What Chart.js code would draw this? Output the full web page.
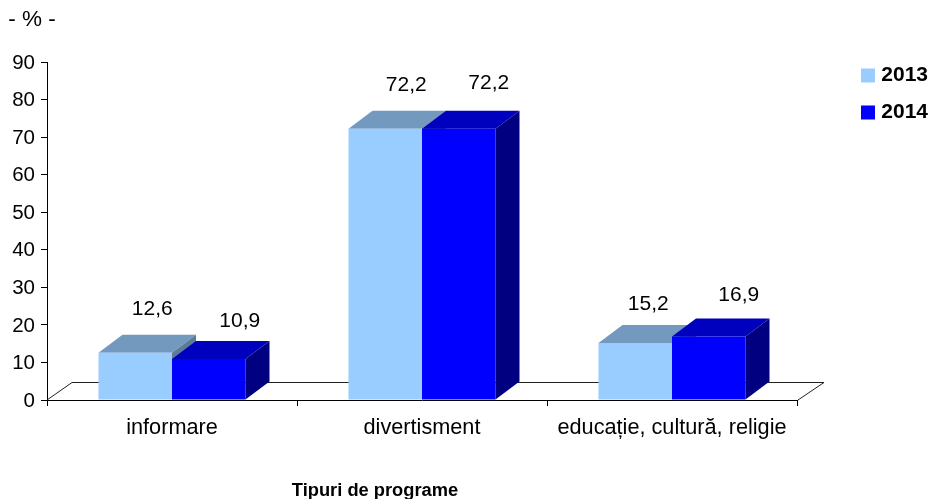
<!DOCTYPE html>
<html lang="ro">
<head>
    <meta charset="UTF-8">
    <title>Tipuri de programe</title>
    <script src="https://cdn.jsdelivr.net/npm/chart.js"></script>
    <style>
        body { margin: 0; background: #fff; }
        canvas { display: block; }
    </style>
</head>
<body>
    <canvas id="myChart" width="929" height="499"></canvas>
    <script>
        const categories = ['informare', 'divertisment', 'educație, cultură, religie'];
        const values2013 = [12.6, 72.2, 15.2];
        const values2014 = [10.9, 72.2, 16.9];
        const yTicks = [0, 10, 20, 30, 40, 50, 60, 70, 80, 90];

        const depthX = 24;
        const depthY = 18;
        const fontFamily = '"Liberation Sans", Arial, sans-serif';

        // value labels were placed by hand in the original, so each has its own shift
        const labelShift = [
            [[17, -43], [21, -44], [13, -39]],
            [[31, -38], [30, -46], [30, -41]]
        ];
        const faceColors = [
            { top: '#7399BF', side: '#5C7A99' },
            { top: '#0000BF', side: '#000080' }
        ];

        function face(ctx, pts, color) {
            ctx.fillStyle = color;
            ctx.beginPath();
            pts.forEach((p, i) => i ? ctx.lineTo(p[0], p[1]) : ctx.moveTo(p[0], p[1]));
            ctx.closePath();
            ctx.fill();
        }

        const bars3d = {
            id: 'bars3d',
            afterLayout(chart) {
                // legend sits in the top right corner, outside the plot
                const legend = chart.legend;
                legend.left = 845;
                legend.right = 928;
                legend.top = 49;
                legend.bottom = 160;
            },
            beforeDatasetsDraw(chart) {
                const ctx = chart.ctx;
                const area = chart.chartArea;

                // floor of the 3d box
                ctx.save();
                ctx.strokeStyle = '#222';
                ctx.lineWidth = 1;
                ctx.beginPath();
                ctx.moveTo(area.left, area.bottom);
                ctx.lineTo(area.left + depthX + 1, area.bottom - depthY + 0.5);
                ctx.lineTo(area.right + depthX + 3, area.bottom - depthY + 0.5);
                ctx.lineTo(area.right + 1, area.bottom);
                ctx.stroke();

                // top and side faces, 2013 first so 2014 covers it
                chart.data.datasets.forEach((ds, d) => {
                    chart.getDatasetMeta(d).data.forEach(bar => {
                        const l = bar.x - bar.width / 2;
                        const r = bar.x + bar.width / 2;
                        face(ctx, [[l, bar.y], [l + depthX, bar.y - depthY], [r + depthX, bar.y - depthY], [r, bar.y]], faceColors[d].top);
                        face(ctx, [[r, bar.y], [r + depthX, bar.y - depthY], [r + depthX, bar.base - depthY], [r, bar.base]], faceColors[d].side);
                    });
                });
                ctx.restore();
            },
            afterDraw(chart) {
                const ctx = chart.ctx;
                ctx.save();
                ctx.fillStyle = '#000';
                ctx.textAlign = 'center';
                ctx.textBaseline = 'middle';
                ctx.font = '21px ' + fontFamily;
                chart.data.datasets.forEach((ds, d) => {
                    chart.getDatasetMeta(d).data.forEach((bar, i) => {
                        const text = ds.data[i].toFixed(1).replace('.', ',');
                        ctx.fillText(text, bar.x + labelShift[d][i][0], bar.y + labelShift[d][i][1]);
                    });
                });
                ctx.font = '22.5px ' + fontFamily;
                ctx.fillText('- % -', 32, 20);
                ctx.font = 'bold 18.3px ' + fontFamily;
                ctx.fillText('Tipuri de programe', 375, 491);
                ctx.restore();
            }
        };

        new Chart(document.getElementById('myChart').getContext('2d'), {
            type: 'bar',
            data: {
                labels: categories,
                datasets: [
                    { label: '2013', data: values2013, backgroundColor: '#99CCFF', borderWidth: 0 },
                    { label: '2014', data: values2014, backgroundColor: '#0000FF', borderWidth: 0 }
                ]
            },
            options: {
                responsive: false,
                animation: false,
                layout: { padding: { left: 0, top: 62, right: 132, bottom: 0 } },
                datasets: { bar: { categoryPercentage: 0.588, barPercentage: 1 } },
                plugins: {
                    tooltip: { enabled: false },
                    legend: {
                        position: 'chartArea',
                        align: 'start',
                        labels: {
                            boxWidth: 14,
                            boxHeight: 14,
                            padding: 16,
                            textAlign: 'right',
                            color: '#000',
                            font: { family: fontFamily, size: 21, weight: 'bold' }
                        }
                    }
                },
                scales: {
                    x: {
                        grid: { drawOnChartArea: false, color: '#000', tickLength: 6 },
                        border: { color: '#000' },
                        ticks: { color: '#000', autoSkip: false, maxRotation: 0, padding: 9, font: { family: fontFamily, size: 21.7 } },
                        afterFit(scale) { scale.height = 99; }
                    },
                    y: {
                        min: 0,
                        max: 90,
                        afterBuildTicks(scale) { scale.ticks = yTicks.map(v => ({ value: v })); },
                        grid: { drawOnChartArea: false, color: '#000', tickLength: 6 },
                        border: { color: '#000' },
                        ticks: { color: '#000', padding: 6, labelOffset: 1, font: { family: fontFamily, size: 20.5 } },
                        afterFit(scale) { scale.width = 47; }
                    }
                }
            },
            plugins: [bars3d]
        });
    </script>
</body>
</html>
